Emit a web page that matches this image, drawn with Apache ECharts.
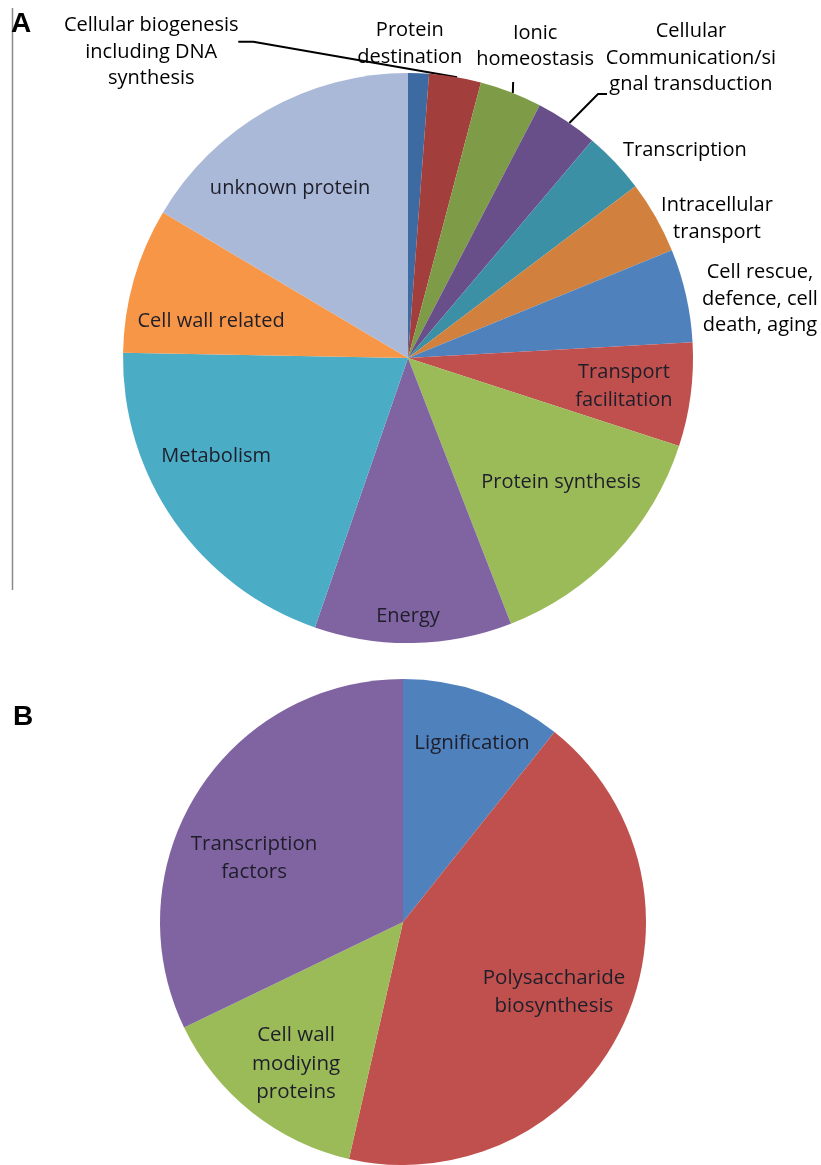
<!DOCTYPE html>
<html><head><meta charset="utf-8">
<script src="https://cdn.jsdelivr.net/npm/echarts@6/dist/echarts.min.js"></script>
<style>html,body{margin:0;padding:0;background:#fff}#c{width:821px;height:1165px}</style>
</head><body><div id="c"></div>
<script>
// ---------- DATA ----------
const categoriesA = ['Cellular biogenesis\nincluding DNA\nsynthesis', 'Protein\ndestination', 'Ionic\nhomeostasis',
  'Cellular\nCommunication/si\ngnal transduction', 'Transcription', 'Intracellular\ntransport',
  'Cell rescue,\ndefence, cell\ndeath, aging', 'Transport\nfacilitation', 'Protein synthesis', 'Energy',
  'Metabolism', 'Cell wall related', 'unknown protein'];
const valuesA = [2, 5, 6, 6, 6, 7, 9, 10, 24, 19, 34, 14, 28];
const categoriesB = ['Lignification', 'Polysaccharide\nbiosynthesis', 'Cell wall\nmodiying\nproteins', 'Transcription\nfactors'];
const valuesB = [3, 12, 4, 9];

// ---------- STYLE / LAYOUT ----------
const colorsA = ['#3d6aa1', '#a23e3b', '#7e9c47', '#694f89', '#3b90a6', '#d1813d',
  '#4f81bd', '#c0504d', '#9bbb59', '#8064a2', '#4bacc6', '#f79646', '#aab9d8'];
const colorsB = ['#4f81bd', '#c0504d', '#9bbb59', '#8064a2'];
const PIE_A = { cx: 408, cy: 358, r: 285 };
const PIE_B = { cx: 403, cy: 922, r: 243 };
// label placement relative to its slice: [radius factor, angle nudge (deg)]
const placeA = [[1.402, -42.1], [1.102, -9.2], [1.182, 1.0], [1.447, 9.45], [1.215, 6.5], [1.189, 5.4],
  [1.252, 3.2], [0.764, 0.0], [0.691, -4.4], [0.905, 1.06], [0.756, 7.9], [0.703, -5.2], [0.726, -5.1]];
const placeB = [[0.789, 1.8], [0.685, -0.8], [0.732, -1.6], [0.667, -8.9]];
// leader lines: rim-angle nudge + points relative to label centre (elbow, end)
const linesA = {
  0: { nudge: 7.8, pts: [[102, -10], [87, -10]] },
  2: { nudge: 0.4, pts: [[-22, 36]] },
  3: { nudge: 0.6, pts: [[-93, 36], [-84, 36]] }
};
const outsideA = [true, true, true, true, true, true, true, false, false, false, false, false, false];

function midAngles(vals) {
  const tot = vals.reduce((a, b) => a + b, 0);
  let acc = 0;
  return vals.map(v => { const m = (acc + v / 2) / tot * 360; acc += v; return m; });
}
const midA = midAngles(valuesA), midB = midAngles(valuesB);
function polar(p, ang, rf) {
  const t = ang * Math.PI / 180;
  return [p.cx + p.r * rf * Math.sin(t), p.cy - p.r * rf * Math.cos(t)];
}

const FONT = '"Open Sans", "Noto Sans", sans-serif';

const dataA = categoriesA.map((n, i) => ({
  name: n, value: valuesA[i],
  itemStyle: { color: colorsA[i] },
  label: outsideA[i]
    ? { position: 'outside', color: '#000', fontSize: 20, lineHeight: 26.5, fontFamily: FONT }
    : { position: 'inside', color: '#1e1e2a', fontSize: 20, lineHeight: 28.5, fontFamily: FONT },
  labelLine: { show: !!linesA[i], length: 5, length2: 5, lineStyle: { color: '#000', width: 2 } }
}));
const dataB = categoriesB.map((n, i) => ({
  name: n, value: valuesB[i], itemStyle: { color: colorsB[i] }
}));

const chart = echarts.init(document.getElementById('c'), null, { renderer: 'canvas' });
chart.setOption({
  backgroundColor: '#fff',
  animation: false,
  graphic: [
    { type: 'line', shape: { x1: 12.5, y1: 8, x2: 12.5, y2: 590 }, style: { stroke: '#8a8a8a', lineWidth: 1.5 } },
    { type: 'text', left: 11, top: 10, style: { text: 'A', font: 'bold 28px "Liberation Sans", Arial, sans-serif', fill: '#000' } },
    { type: 'text', left: 13, top: 703, style: { text: 'B', font: 'bold 28px "Liberation Sans", Arial, sans-serif', fill: '#000' } }
  ],
  series: [
    {
      type: 'pie', center: [PIE_A.cx, PIE_A.cy], radius: [0, PIE_A.r],
      startAngle: 90, clockwise: true, avoidLabelOverlap: false,
      itemStyle: { borderWidth: 0 },
      label: { show: true, formatter: '{b}', overflow: 'none', width: 340, align: 'center' },
      data: dataA,
      labelLayout: function (p) {
        const i = p.dataIndex;
        const [x, y] = polar(PIE_A, midA[i] + placeA[i][1], placeA[i][0]);
        const res = { x: x, y: y, align: 'center', verticalAlign: 'middle' };
        const L = linesA[i];
        if (L) {
          const rim = polar(PIE_A, midA[i] + L.nudge, 1.0);
          const pts = [rim].concat(L.pts.map(q => [x + q[0], y + q[1]]));
          if (pts.length === 2) pts.splice(1, 0, [(rim[0] + pts[1][0]) / 2, (rim[1] + pts[1][1]) / 2]);
          res.labelLinePoints = pts;
        }
        return res;
      }
    },
    {
      type: 'pie', center: [PIE_B.cx, PIE_B.cy], radius: [0, PIE_B.r],
      startAngle: 90, clockwise: true, avoidLabelOverlap: false,
      itemStyle: { borderWidth: 0 },
      label: { show: true, position: 'inside', formatter: '{b}', color: '#1e1e2a', fontSize: 20.5, lineHeight: 28.5, fontFamily: FONT },
      labelLine: { show: false },
      data: dataB,
      labelLayout: function (p) {
        const i = p.dataIndex;
        const [x, y] = polar(PIE_B, midB[i] + placeB[i][1], placeB[i][0]);
        return { x: x, y: y, align: 'center', verticalAlign: 'middle' };
      }
    }
  ]
});
</script></body></html>
